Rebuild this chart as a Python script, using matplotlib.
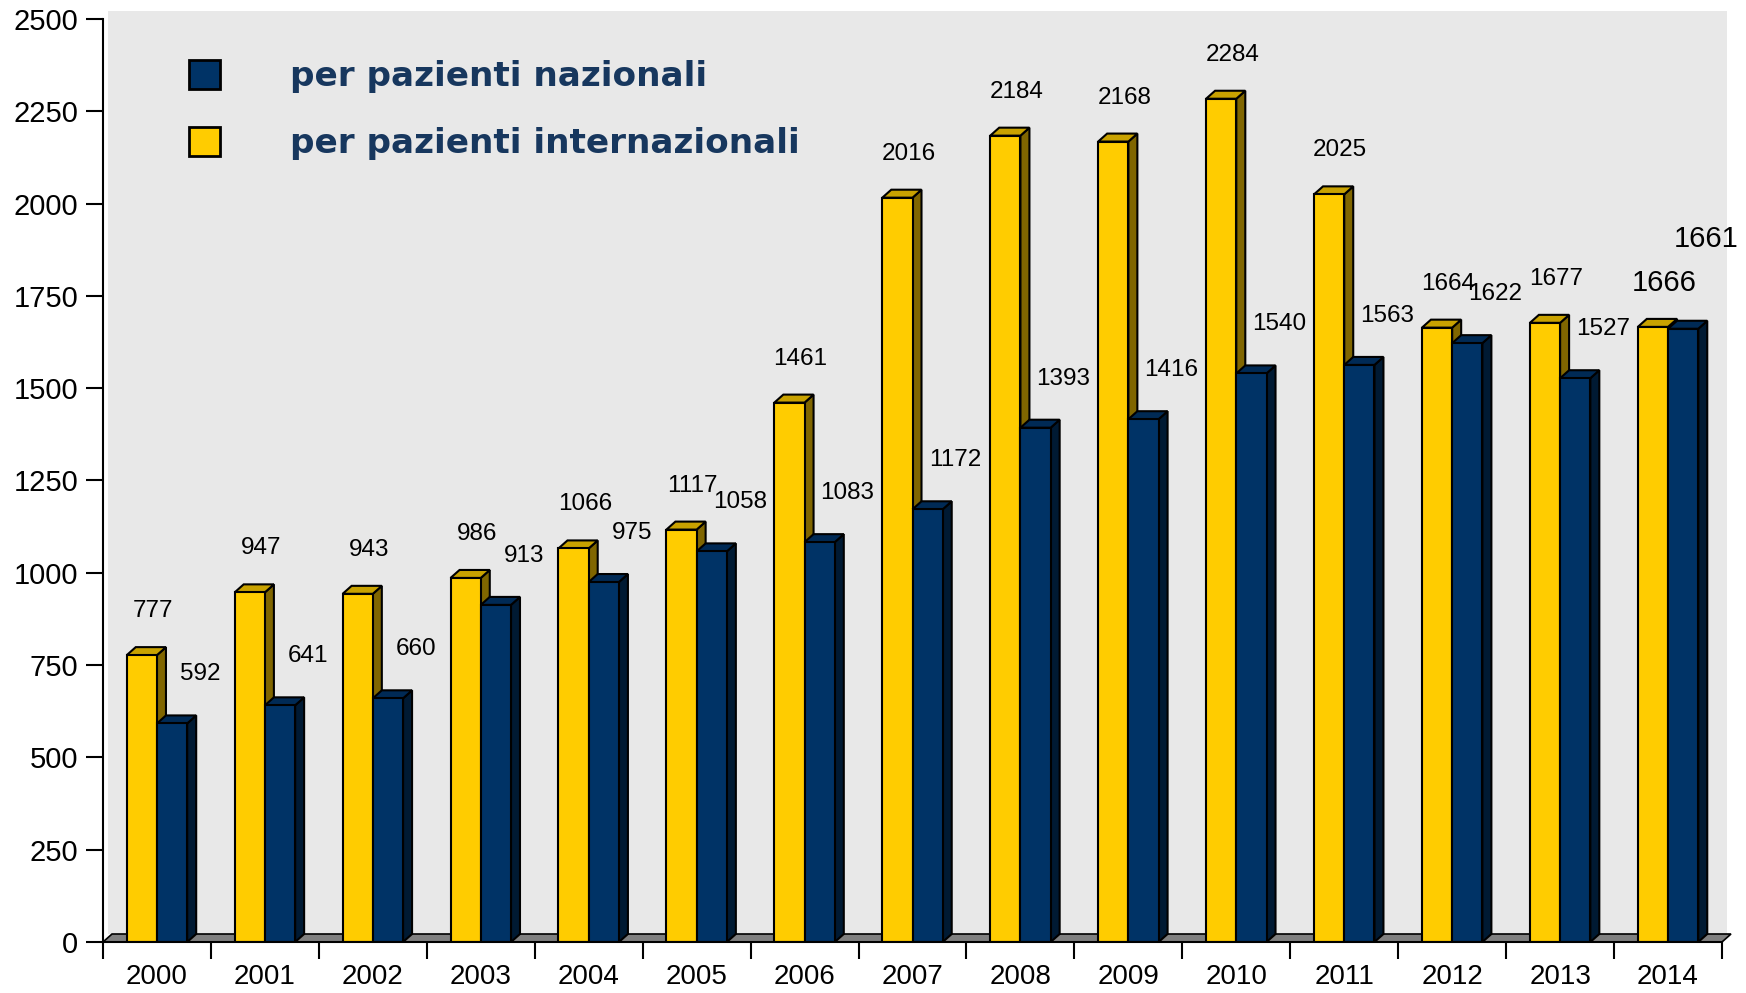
import numpy as np
import matplotlib
matplotlib.use("Agg")
import matplotlib.pyplot as plt
from matplotlib.patches import Polygon, Rectangle

# data
anni = ["2000", "2001", "2002", "2003", "2004", "2005", "2006", "2007",
        "2008", "2009", "2010", "2011", "2012", "2013", "2014"]
internazionali = [777, 947, 943, 986, 1066, 1117, 1461, 2016,
                  2184, 2168, 2284, 2025, 1664, 1677, 1666]
nazionali = [592, 641, 660, 913, 975, 1058, 1083, 1172,
             1393, 1416, 1540, 1563, 1622, 1527, 1661]

giallo, giallo_top, giallo_side = "#FFCC00", "#C9A200", "#806600"
blu, blu_top, blu_side = "#003366", "#002A55", "#001A33"
sfondo = "#E8E8E8"
testo_legenda = "#17375E"

W, H = 1746, 993
fig = plt.figure(figsize=(W / 100, H / 100), dpi=100)
ax_l, ax_r, ax_t, ax_b = 103, 1722, 19, 942
ax = fig.add_axes([ax_l / W, 1 - ax_b / H, (ax_r - ax_l) / W, (ax_b - ax_t) / H])
ax.patch.set_visible(False)

n = len(anni)
ymax = 2500
ax.set_xlim(-0.5, n - 0.5)
ax.set_ylim(0, ymax)

# depth of the fake 3D effect, in data units
px_x = (ax_r - ax_l) / n
px_y = (ax_b - ax_t) / ymax
dx = 9 / px_x
dy = 8 / px_y

# back wall and floor
ax.add_patch(Rectangle((-0.5 + dx * 0.6, dy), n, ymax, facecolor=sfondo,
                       edgecolor="none", clip_on=False, zorder=0))
ax.add_patch(Polygon([(-0.5, 0), (n - 0.5, 0), (n - 0.5 + dx, dy), (-0.5 + dx, dy)],
                     closed=True, facecolor="#808080", edgecolor="black",
                     linewidth=1.2, clip_on=False, zorder=1))

x = np.arange(n)
w = 0.28


def barre3d(pos, vals, front, top, side, z):
    ax.bar(pos, vals, width=w, color=front, edgecolor="black", linewidth=1.5, zorder=z)
    for xc, v in zip(pos, vals):
        l, r = xc - w / 2, xc + w / 2
        ax.add_patch(Polygon([(r, 0), (r + dx, dy), (r + dx, v + dy), (r, v)], closed=True,
                             facecolor=side, edgecolor="black", linewidth=1.5,
                             clip_on=False, zorder=z - 0.5))
        ax.add_patch(Polygon([(l, v), (r, v), (r + dx, v + dy), (l + dx, v + dy)], closed=True,
                             facecolor=top, edgecolor="black", linewidth=1.5,
                             clip_on=False, zorder=z - 0.5))


barre3d(x - w / 2, internazionali, giallo, giallo_top, giallo_side, 3)
barre3d(x + w / 2, nazionali, blu, blu_top, blu_side, 5)

# value labels
for i in range(n):
    big = i == n - 1
    fs = 21 if big else 17.5
    ax.annotate(str(internazionali[i]), (x[i], internazionali[i]),
                xytext=(-4, 44), textcoords="offset pixels", ha="center", va="center",
                fontsize=fs, family="Liberation Sans", zorder=10, annotation_clip=False)
    ax.annotate(str(nazionali[i]), (x[i], nazionali[i]),
                xytext=(38, 90) if big else (43, 49), textcoords="offset pixels",
                ha="center", va="center", fontsize=fs, family="Liberation Sans",
                zorder=10, annotation_clip=False)

# axes
for s in ["top", "right"]:
    ax.spines[s].set_visible(False)
ax.spines["left"].set_linewidth(1.5)
ax.spines["bottom"].set_linewidth(1.5)
ax.spines["bottom"].set_zorder(6)
ax.set_yticks(np.arange(0, ymax + 1, 250))
ax.tick_params(axis="y", length=12, width=1.5, pad=6, labelsize=21)
ax.set_xticks(np.arange(n + 1) - 0.5)
ax.set_xticklabels([])
ax.set_xticks(x, minor=True)
ax.set_xticklabels(anni, minor=True)
ax.tick_params(axis="x", which="major", length=12, width=1.5)
ax.tick_params(axis="x", which="minor", length=0, pad=16, labelsize=20)
for t in ax.get_yticklabels() + ax.get_xticklabels(minor=True):
    t.set_family("Liberation Sans")

# legend
h1 = Rectangle((0, 0), 1, 1, facecolor=blu, edgecolor="black", linewidth=2)
h2 = Rectangle((0, 0), 1, 1, facecolor=giallo, edgecolor="black", linewidth=2)
leg = ax.legend([h1, h2], ["per pazienti nazionali", "per pazienti internazionali"],
                loc="upper left", bbox_to_anchor=(158 / W, 1 - 29 / H),
                bbox_transform=fig.transFigure, frameon=False,
                prop={"family": "DejaVu Sans", "weight": "bold", "size": 24.7},
                handlelength=0.9, handleheight=0.93, handletextpad=2.05,
                labelspacing=0.98, labelcolor=testo_legenda)

fig.savefig("out.png", dpi=100)
